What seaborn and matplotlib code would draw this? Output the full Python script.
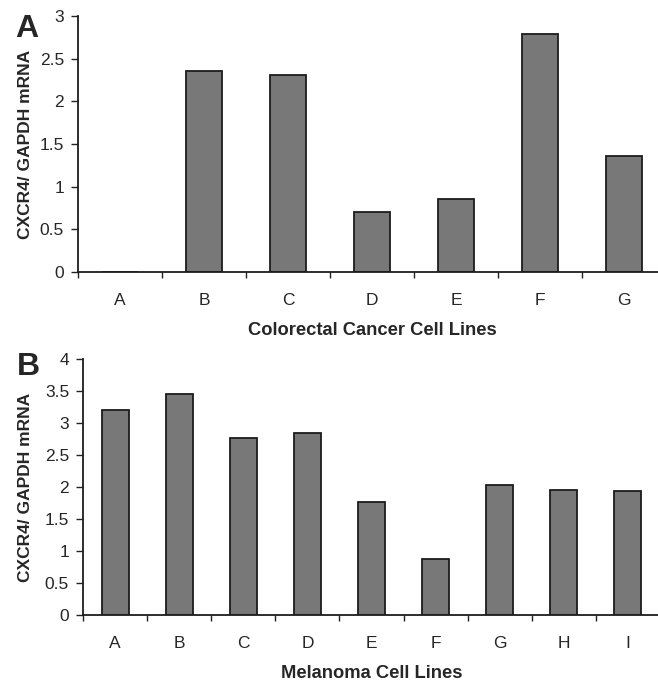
import numpy as np
import matplotlib
matplotlib.use("Agg")
import matplotlib.pyplot as plt
import seaborn as sns
from matplotlib.ticker import FuncFormatter, FixedLocator

# Panel A: colorectal cancer cell lines
crc_lines = ["A", "B", "C", "D", "E", "F", "G"]
crc_values = [0.0, 2.35, 2.31, 0.70, 0.86, 2.79, 1.36]

# Panel B: melanoma cell lines
mel_lines = ["A", "B", "C", "D", "E", "F", "G", "H", "I"]
mel_values = [3.21, 3.45, 2.76, 2.84, 1.77, 0.87, 2.03, 1.96, 1.94]

sns.set_style("white")
plt.rcParams["font.family"] = ["Liberation Sans", "DejaVu Sans"]

fig = plt.figure(figsize=(6.58, 6.81), dpi=100)
W, H = 658.0, 681.0

# axes rectangles measured in pixels from the reference
ax_a = fig.add_axes([78 / W, 1 - 272 / H, 588 / W, 256 / H])
ax_b = fig.add_axes([83 / W, 1 - 615 / H, 577 / W, 256 / H])


def style_panel(ax, cats, vals, ymax, xlabel, label_x):
    sns.barplot(x=cats, y=vals, color="#787878", edgecolor="#1c1c1c",
                linewidth=1.3, width=0.42, saturation=1, ax=ax)
    n = len(cats)
    ax.set_xlim(-0.5, n - 0.5)
    ax.set_ylim(0, ymax)
    ax.set_yticks(np.arange(0, ymax + 0.01, 0.5))
    ax.yaxis.set_major_formatter(FuncFormatter(lambda v, p: f"{v:g}"))
    # tick marks sit between categories, labels at category centres
    ax.xaxis.set_minor_locator(FixedLocator(np.arange(-0.5, n, 1.0)))
    ax.tick_params(axis="x", which="major", length=0, pad=15, labelsize=12.5)
    ax.tick_params(axis="x", which="minor", length=4, width=1, direction="out",
                   bottom=True, color="#222222")
    ax.tick_params(axis="y", which="major", length=5, width=1, direction="out",
                   left=True, pad=5, labelsize=12.5, color="#222222")
    for side in ["top", "right"]:
        ax.spines[side].set_visible(False)
    for side in ["left", "bottom"]:
        ax.spines[side].set_linewidth(1.3)
        ax.spines[side].set_color("#1c1c1c")
    ax.set_xlabel(xlabel, fontsize=13.2, fontweight="bold", labelpad=10)
    ax.set_ylabel("CXCR4/ GAPDH mRNA", fontsize=12.5, fontweight="bold")
    ax.yaxis.set_label_coords(label_x, 0.5)


style_panel(ax_a, crc_lines, crc_values, 3, "Colorectal Cancer Cell Lines",
            (33 - 78) / 588)
style_panel(ax_b, mel_lines, mel_values, 4, "Melanoma Cell Lines",
            (33 - 83) / 577)

fig.text(15 / W, 1 - 37 / H, "A", fontsize=23, fontweight="bold",
         va="baseline", ha="left")
fig.text(17 / W, 1 - 375 / H, "B", fontsize=23, fontweight="bold",
         va="baseline", ha="left")

fig.savefig("out.png", dpi=100)
